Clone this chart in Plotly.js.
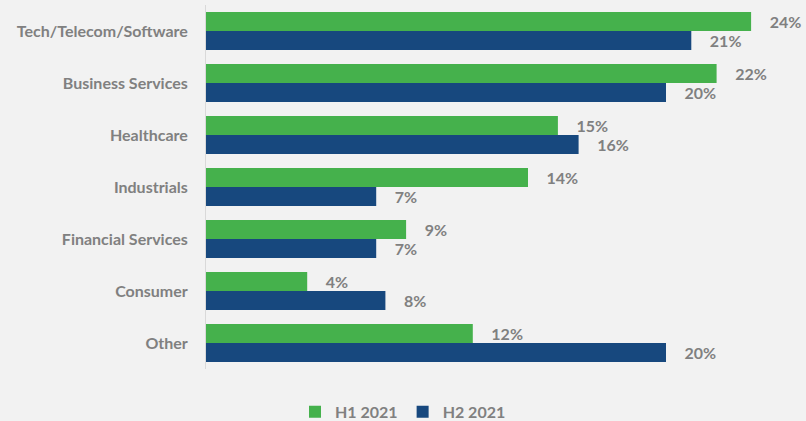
<!DOCTYPE html>
<html>
<head>
<meta charset="utf-8">
<script src="https://cdn.plot.ly/plotly-3.0.1.min.js"></script>
<style>html,body{margin:0;padding:0;background:#f2f2f2;}#chart{width:806px;height:421px;}</style>
</head>
<body>
<div id="chart"></div>
<script>
var categories = ['Tech/Telecom/Software','Business Services','Healthcare','Industrials','Financial Services','Consumer','Other'];
var h1Values = [23.7, 22.2, 15.3, 14.0, 8.7, 4.4, 11.6];
var h2Values = [21.1, 20.0, 16.2, 7.4, 7.4, 7.8, 20.0];
var h1Labels = ['24%','22%','15%','14%','9%','4%','12%'];
var h2Labels = ['21%','20%','16%','7%','7%','8%','20%'];
var seriesNames = ['H1 2021','H2 2021'];

var pad = '\u00a0\u00a0\u00a0\u00a0';
var fam = 'Lato, sans-serif';
var labelFont = {family:fam, size:16, color:'#808080', weight:'bold'};

var traces = [
  {type:'bar', orientation:'h', name:seriesNames[0], y:categories, x:h1Values,
   text:h1Labels.map(function(t){return pad+t;}), textposition:'outside', textfont:labelFont,
   cliponaxis:false, marker:{color:'#45b14c', line:{width:0}}, hoverinfo:'skip'},
  {type:'bar', orientation:'h', name:seriesNames[1], y:categories, x:h2Values,
   text:h2Labels.map(function(t){return pad+t;}), textposition:'outside', textfont:labelFont,
   cliponaxis:false, marker:{color:'#17487e', line:{width:0}}, hoverinfo:'skip'}
];

var layout = {
  width:806, height:421,
  paper_bgcolor:'#f2f2f2', plot_bgcolor:'#f2f2f2',
  margin:{l:206, r:2, t:5, b:52},
  barmode:'group', bargap:0.27, bargroupgap:0,
  showlegend:true,
  legend:{orientation:'h', x:0.5, xanchor:'center', xref:'container', y:0.022, yref:'container', yanchor:'middle',
          font:{family:fam, size:16, color:'#808080', weight:'bold'}, traceorder:'normal', itemwidth:30},
  xaxis:{range:[0,26], showgrid:false, zeroline:false, showticklabels:false, showline:false, fixedrange:true},
  yaxis:{autorange:'reversed', showgrid:false, zeroline:false, showline:true, linecolor:'#d9d9d9', linewidth:1,
         ticks:'outside', ticklen:14, tickcolor:'rgba(0,0,0,0)',
         tickfont:{family:fam, size:16, color:'#808080', weight:'bold'}, fixedrange:true},
  font:{family:fam}
};

Plotly.newPlot('chart', traces, layout, {displayModeBar:false, staticPlot:true});
</script>
</body>
</html>
